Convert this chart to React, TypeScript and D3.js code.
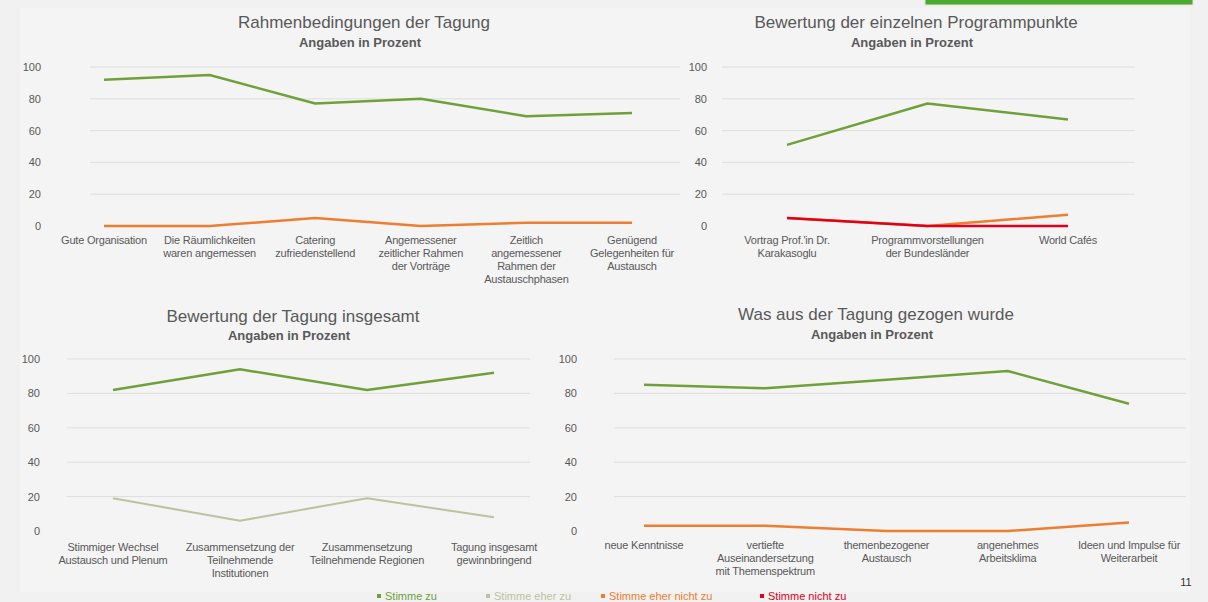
import * as React from "react";
import * as d3 from "d3";

// y axis ticks, same for all four charts
const yTicks = [0, 20, 40, 60, 80, 100];

const legendLabels = ["Stimme zu", "Stimme eher zu", "Stimme eher nicht zu", "Stimme nicht zu"];

// Rahmenbedingungen der Tagung
const rahmenCategories = [
  "Gute Organisation",
  "Die Räumlichkeiten\nwaren angemessen",
  "Catering\nzufriedenstellend",
  "Angemessener\nzeitlicher Rahmen\nder Vorträge",
  "Zeitlich\nangemessener\nRahmen der\nAustauschphasen",
  "Genügend\nGelegenheiten für\nAustausch",
];
const rahmenStimmeZu = [92, 95, 77, 80, 69, 71];
const rahmenEherNicht = [0, 0, 5, 0, 2, 2];

// Bewertung der einzelnen Programmpunkte
const programmCategories = [
  "Vortrag Prof.'in Dr.\nKarakasoglu",
  "Programmvorstellungen\nder Bundesländer",
  "World Cafés",
];
const programmStimmeZu = [51, 77, 67];
const programmEherNicht = [5, 0, 7];
const programmNicht = [5, 0, 0];

// Bewertung der Tagung insgesamt
const insgesamtCategories = [
  "Stimmiger Wechsel\nAustausch und Plenum",
  "Zusammensetzung der\nTeilnehmende\nInstitutionen",
  "Zusammensetzung\nTeilnehmende Regionen",
  "Tagung insgesamt\ngewinnbringend",
];
const insgesamtStimmeZu = [82, 94, 82, 92];
const insgesamtEherZu = [19, 6, 19, 8];

// Was aus der Tagung gezogen wurde
const gezogenCategories = [
  "neue Kenntnisse",
  "vertiefte\nAuseinandersetzung\nmit Themenspektrum",
  "themenbezogener\nAustausch",
  "angenehmes\nArbeitsklima",
  "Ideen und Impulse für\nWeiterarbeit",
];
const gezogenStimmeZu = [85, 83, 88, 93, 74];
const gezogenEherNicht = [3, 3, 0, 0, 5];

const colors = {
  zu: "#70a03a",
  eherZu: "#bcc29f",
  eherNicht: "#ee7d2f",
  nicht: "#e0001b",
};
const textGray = "#595959";
const font = "'Liberation Sans', Arial, sans-serif";

const panels = [
  {
    title: "Rahmenbedingungen der Tagung",
    titleX: 364, titleY: 28, subY: 47,
    categories: rahmenCategories,
    series: [
      { values: rahmenStimmeZu, color: colors.zu, w: 2.5 },
      { values: rahmenEherNicht, color: colors.eherNicht, w: 2.5 },
    ],
    xFirst: 104, xLast: 632, y0: 226, y100: 67,
    gridX0: 90, gridX1: 680, tickX: 41, labelY: 244,
  },
  {
    title: "Bewertung der einzelnen Programmpunkte",
    titleX: 916, titleY: 28, subY: 47,
    categories: programmCategories,
    series: [
      { values: programmStimmeZu, color: colors.zu, w: 2.5 },
      { values: programmEherNicht, color: colors.eherNicht, w: 2.5 },
      { values: programmNicht, color: colors.nicht, w: 2.5 },
    ],
    xFirst: 787, xLast: 1068, y0: 226, y100: 67,
    gridX0: 722, gridX1: 1135, tickX: 707, labelY: 244,
  },
  {
    title: "Bewertung der Tagung insgesamt",
    titleX: 293, titleY: 322, subY: 340,
    categories: insgesamtCategories,
    series: [
      { values: insgesamtStimmeZu, color: colors.zu, w: 2.5 },
      { values: insgesamtEherZu, color: colors.eherZu, w: 2 },
    ],
    xFirst: 113, xLast: 494, y0: 531, y100: 359,
    gridX0: 67, gridX1: 530, tickX: 40, labelY: 551,
  },
  {
    title: "Was aus der Tagung gezogen wurde",
    titleX: 876, titleY: 320, subY: 339,
    categories: gezogenCategories,
    series: [
      { values: gezogenStimmeZu, color: colors.zu, w: 2.5 },
      { values: gezogenEherNicht, color: colors.eherNicht, w: 2.5 },
    ],
    xFirst: 644, xLast: 1129, y0: 531, y100: 359,
    gridX0: 614, gridX1: 1186, tickX: 577, labelY: 549,
  },
];

const Panel = ({ p }) => {
  const x = d3
    .scalePoint()
    .domain(p.categories.map((_, i) => String(i)))
    .range([p.xFirst, p.xLast]);
  const y = d3.scaleLinear().domain([0, 100]).range([p.y0, p.y100]);
  const line = d3
    .line<number>()
    .x((_, i) => x(String(i)))
    .y(d => y(d));

  return (
    <g>
      <text x={p.titleX} y={p.titleY} textAnchor="middle" fontSize={17} fill={textGray}>
        {p.title}
      </text>
      <text x={p.titleX - 4} y={p.subY} textAnchor="middle" fontSize={13} fontWeight="bold" fill={textGray}>
        Angaben in Prozent
      </text>
      {yTicks.filter(t => t > 0).map(t => (
        <line key={t} x1={p.gridX0} x2={p.gridX1} y1={y(t)} y2={y(t)} stroke="#dedede" strokeWidth={1} />
      ))}
      {yTicks.map(t => (
        <text key={t} x={p.tickX} y={y(t) + 4} textAnchor="end" fontSize={11} fill={textGray}>
          {t}
        </text>
      ))}
      {p.categories.map((c, i) => (
        <text key={i} x={x(String(i))} y={p.labelY} textAnchor="middle" fontSize={11} fill={textGray} letterSpacing={-0.2}>
          {c.split("\n").map((ln, j) => (
            <tspan key={j} x={x(String(i))} dy={j === 0 ? 0 : 13}>{ln}</tspan>
          ))}
        </text>
      ))}
      {p.series.map((s, i) => (
        <path key={i} d={line(s.values)} fill="none" stroke={s.color} strokeWidth={s.w} strokeLinejoin="round" />
      ))}
    </g>
  );
};

const legendColors = [colors.zu, colors.eherZu, colors.eherNicht, colors.nicht];
const legendX = [379, 488, 603, 762];

const App = () => (
  <svg
    width={1208}
    height={602}
    style={{ position: "absolute", left: 0, top: 0, fontFamily: font }}
  >
    <rect width={1208} height={602} fill="#f1f1f1" />
    <rect x={20} y={8} width={1170} height={584} fill="#f4f4f4" />
    <rect x={925} y={-2} width={268} height={7} fill="#4aaa2f" stroke="#f3d9d9" strokeWidth={1} />
    {panels.map((p, i) => (
      <Panel key={i} p={p} />
    ))}
    <text x={1186} y={586} textAnchor="middle" fontSize={11} fill="#333">11</text>
    {legendLabels.map((l, i) => (
      <g key={l}>
        <rect x={legendX[i] - 2} y={594} width={4} height={4} fill={legendColors[i]} />
        <text x={legendX[i] + 6} y={600} fontSize={11} fill={legendColors[i]}>
          {l}
        </text>
      </g>
    ))}
  </svg>
);

export default App;
